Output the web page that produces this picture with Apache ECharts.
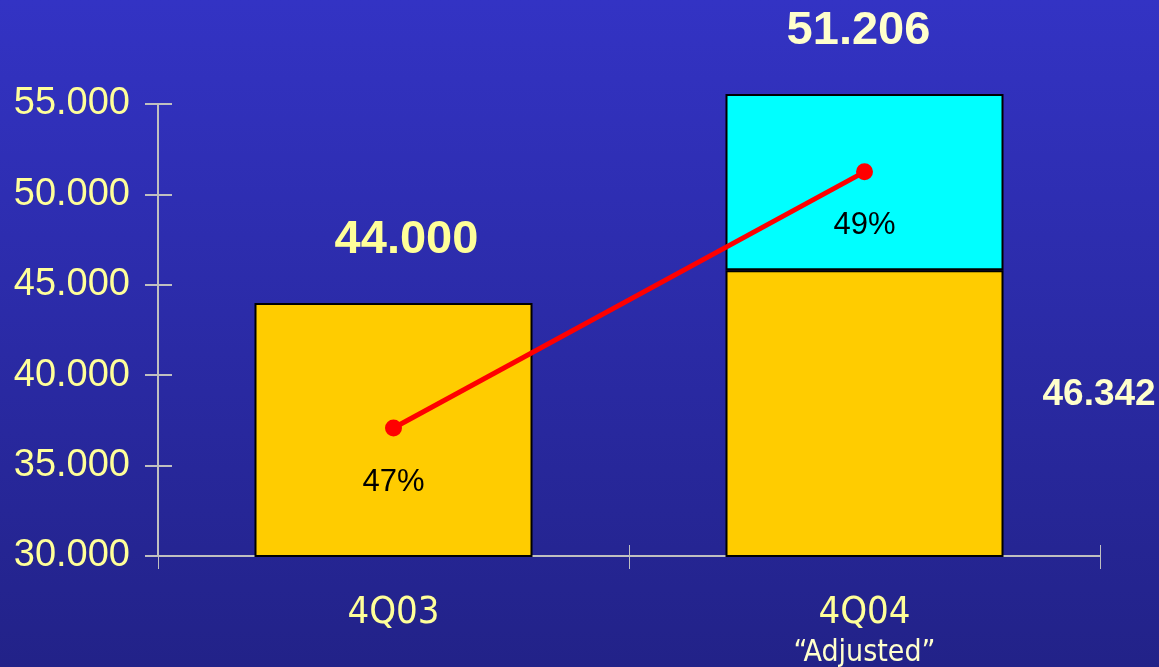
<!DOCTYPE html>
<html>
<head>
<meta charset="utf-8">
<script src="https://cdn.jsdelivr.net/npm/echarts@6/dist/echarts.min.js"></script>
<style>
  html, body { margin: 0; padding: 0; }
  #chart { width: 1159px; height: 667px; }
</style>
</head>
<body>
<div id="chart"></div>
<script>
// data
var categories = ['4Q03', '4Q04']
var baseValues = [44000, 45800]        // yellow bars
var adjustedValues = [null, 9750]      // cyan part stacked on 4Q04
var baseLabels = ['44.000', '46.342']
var totalLabels = ['', '51.206']
var ratioValues = [47, 49]             // red line, %
var yTicks = [30000, 55000, 5000]      // min, max, interval

var fmt = function (v) {
  return (v / 1000).toFixed(3)
}
var narrow = "'Liberation Sans Narrow', 'DejaVu Sans Condensed', 'Liberation Sans', sans-serif"

var chart = echarts.init(document.getElementById('chart'))
chart.setOption({
  backgroundColor: {
    type: 'linear', x: 0, y: 0, x2: 0, y2: 1,
    colorStops: [{ offset: 0, color: '#3333c4' }, { offset: 1, color: '#222288' }]
  },
  textStyle: { fontFamily: 'Liberation Sans' },
  grid: { left: 158, right: 59, top: 104, bottom: 111, outerBoundsMode: 'none', containLabel: false },
  xAxis: [
    {
      type: 'category',
      data: categories,
      axisLine: { lineStyle: { color: '#c0c0c0', width: 2 } },
      axisTick: { show: true, length: 13, lineStyle: { color: '#c0c0c0' } },
      axisLabel: {
        margin: 37,
        color: '#ffff99',
        fontFamily: narrow,
        fontSize: 38,
        lineHeight: 40,
        formatter: function (v) {
          return v === '4Q04' ? v + '\n{sub|\u201cAdjusted\u201d}' : v
        },
        rich: { sub: { fontSize: 30, fontFamily: narrow, color: '#ffffcc', lineHeight: 40 } }
      }
    },
    {
      // inner half of the crossing ticks
      type: 'category',
      data: categories,
      position: 'bottom',
      axisLine: { show: false },
      axisTick: { show: true, inside: true, length: 11, lineStyle: { color: '#c0c0c0' } },
      axisLabel: { show: false }
    }
  ],
  yAxis: [
    {
      type: 'value',
      min: yTicks[0], max: yTicks[1], interval: yTicks[2],
      splitLine: { show: false },
      axisLine: { show: true, lineStyle: { color: '#c0c0c0', width: 2 } },
      axisTick: { show: true, length: 13, lineStyle: { color: '#c0c0c0', width: 2 } },
      axisLabel: { margin: 28, color: '#ffff99', fontSize: 38, formatter: fmt }
    },
    {
      type: 'value',
      min: 46, max: 49.53,
      show: false
    },
    {
      type: 'value',
      position: 'left',
      min: yTicks[0], max: yTicks[1], interval: yTicks[2],
      splitLine: { show: false },
      axisLine: { show: false },
      axisTick: { show: true, inside: true, length: 14, lineStyle: { color: '#c0c0c0', width: 2 } },
      axisLabel: { show: false }
    }
  ],
  series: [
    {
      type: 'bar',
      stack: 'total',
      barWidth: 278,
      data: baseValues.map(function (v, i) {
        return i === 1 ? { value: v, label: { color: '#ffffcc' } } : v
      }),
      itemStyle: { color: '#ffcc00', borderColor: '#000', borderWidth: 2 },
      label: {
        show: true,
        formatter: function (p) { return baseLabels[p.dataIndex] },
        fontWeight: 'bold',
        color: '#ffff99',
        fontSize: 47,
        position: 'top',
        distance: 39
      },
      labelLayout: function (p) {
        if (p.dataIndex === 1) {
          return { x: p.rect.x + p.rect.width + 39, y: 395, align: 'left', verticalAlign: 'middle', fontSize: 37 }
        }
        return { dx: 13 }
      }
    },
    {
      type: 'bar',
      stack: 'total',
      barWidth: 278,
      clip: false,
      data: adjustedValues,
      itemStyle: { color: '#00ffff', borderColor: '#000', borderWidth: 2 },
      label: {
        show: true,
        formatter: function (p) { return totalLabels[p.dataIndex] },
        fontWeight: 'bold',
        color: '#ffffcc',
        fontSize: 47,
        position: 'top',
        distance: 40,
        offset: [-6, 0]
      }
    },
    {
      type: 'line',
      yAxisIndex: 1,
      data: ratioValues,
      symbol: 'circle',
      symbolSize: 17,
      lineStyle: { color: '#ff0000', width: 5 },
      itemStyle: { color: '#ff0000' },
      label: {
        show: true,
        position: 'bottom',
        distance: 30,
        color: '#000',
        fontSize: 31,
        formatter: function (p) { return p.value + '%' }
      },
      z: 5
    }
  ]
})
</script>
</body>
</html>
